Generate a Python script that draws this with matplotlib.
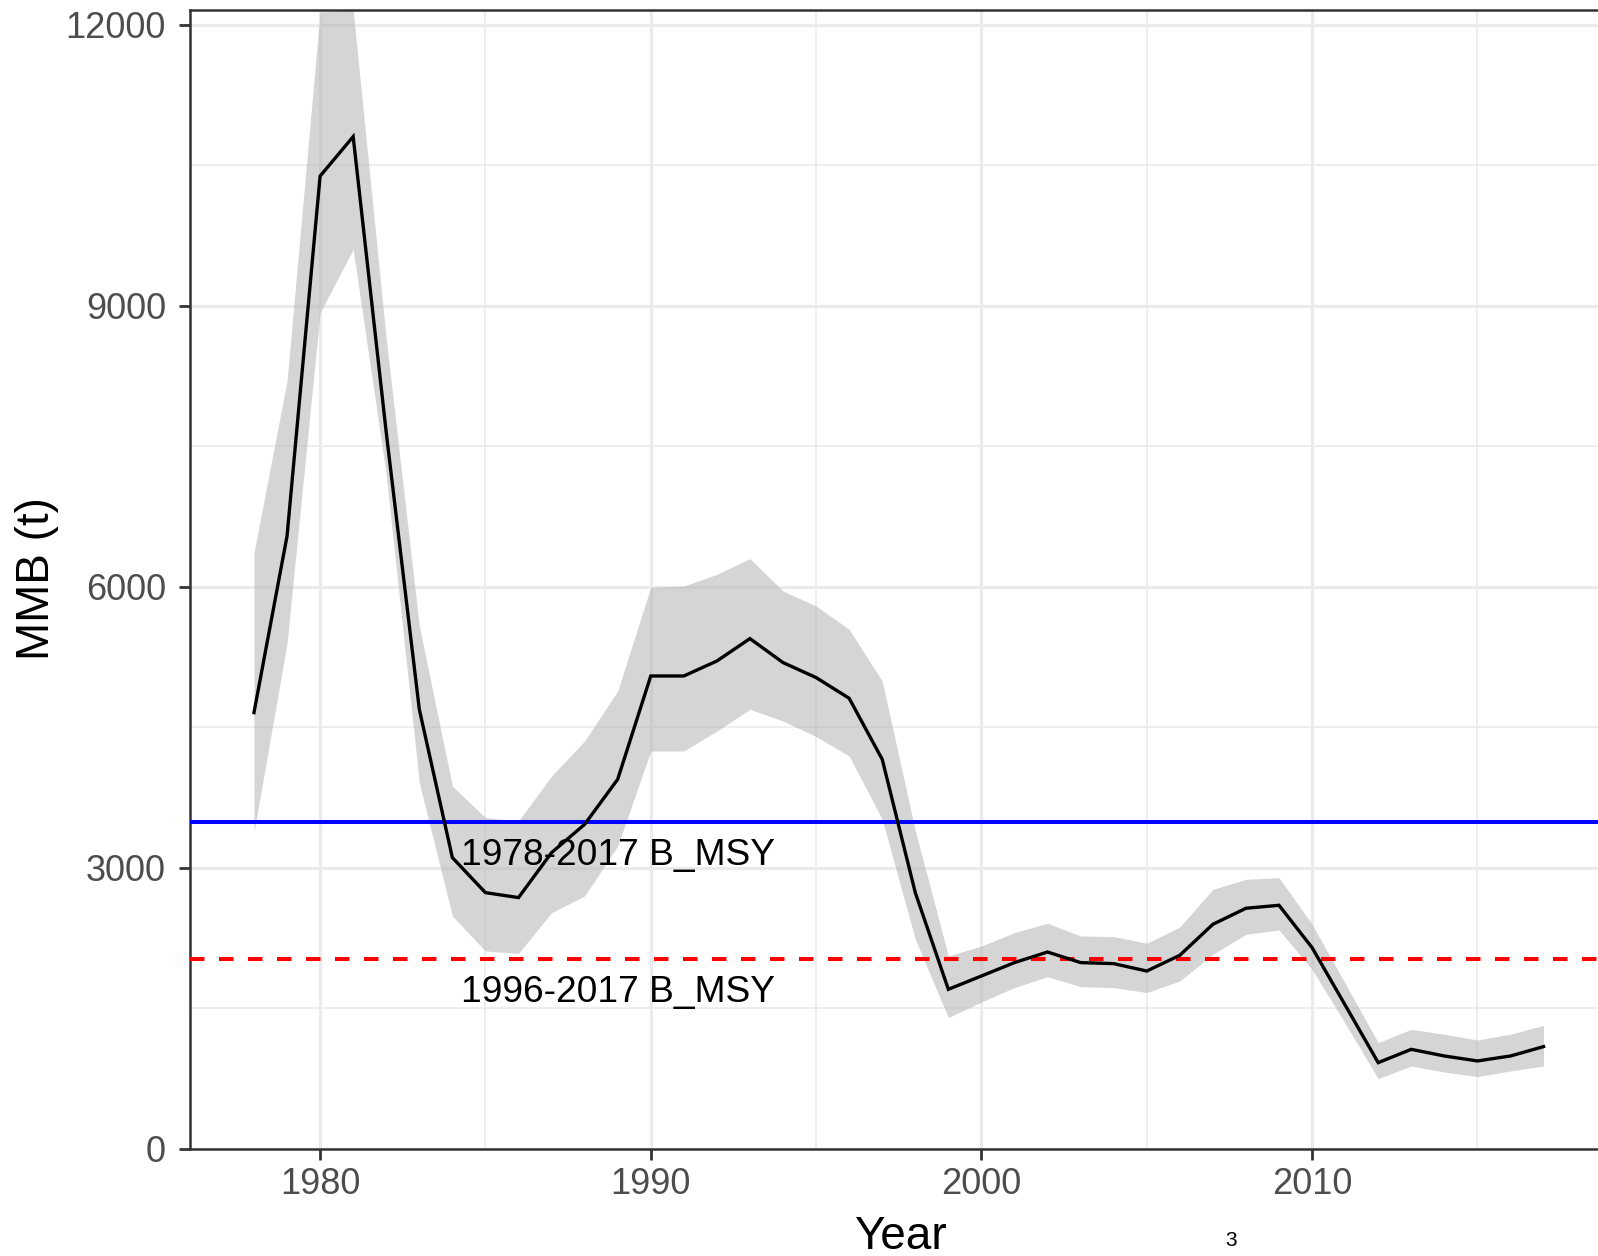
import matplotlib
matplotlib.use("Agg")
import matplotlib.pyplot as plt
import numpy as np

# Mature male biomass estimates with confidence band
years = list(range(1978, 2018))
mmb = [4659, 6544, 10387, 10808, 7650, 4694, 3111, 2737, 2684, 3164,
       3466, 3947, 5050, 5050, 5210, 5449, 5193, 5033, 4812, 4160,
       2737, 1705, 1847, 1990, 2103, 1990, 1979, 1900, 2068, 2399,
       2570, 2602, 2150, 1537, 922, 1064, 993, 940, 993, 1093]
mmb_upper = [6367, 8200, 12138, 12160, 8650, 5584, 3875, 3538, 3502, 3982,
             4356, 4890, 5998, 6010, 6135, 6303, 5957, 5797, 5548, 4996,
             3400, 2061, 2167, 2310, 2410, 2274, 2268, 2196, 2370, 2772,
             2879, 2897, 2399, 1769, 1136, 1278, 1225, 1164, 1225, 1320]
mmb_lower = [3378, 5400, 8929, 9605, 7200, 3911, 2488, 2114, 2089, 2523,
             2701, 3235, 4249, 4249, 4462, 4694, 4569, 4403, 4196, 3520,
             2239, 1403, 1570, 1723, 1840, 1734, 1723, 1670, 1794, 2079,
             2292, 2338, 1918, 1342, 751, 886, 822, 773, 833, 886]

# Reference biomass levels
bmsy_long = 3491    # 1978-2017 B_MSY
bmsy_short = 2025   # 1996-2017 B_MSY
bmsy_labels = ["1978-2017 B_MSY", "1996-2017 B_MSY"]
label_year = 1989
label_baselines = [3029, 1574]

x_ticks = [1980, 1990, 2000, 2010]
y_ticks = [0, 3000, 6000, 9000, 12000]

FONT = "Liberation Sans"
plt.rcParams["font.family"] = [FONT, "DejaVu Sans"]

W, H = 1598, 1256
fig = plt.figure(figsize=(W / 100, H / 100), dpi=100)
fig.patch.set_facecolor("white")

px_left, px_right, px_top, px_bottom = 189.5, 1608.0, 10.0, 1149.0
ax = fig.add_axes([px_left / W, (H - px_bottom) / H,
                   (px_right - px_left) / W, (px_bottom - px_top) / H])

ax.fill_between(years, mmb_lower, mmb_upper, color="#B3B3B3", alpha=0.55,
                linewidth=0, zorder=2)
ax.axhline(bmsy_long, color="#0000FF", lw=2.9, zorder=3)
ax.axhline(bmsy_short, color="#FF0000", lw=2.9, ls=(0, (3.6, 3.6)), zorder=3)
ax.plot(years, mmb, color="black", lw=2.4, zorder=4, solid_joinstyle="miter")

for lab, yb in zip(bmsy_labels, label_baselines):
    ax.text(label_year, yb, lab, ha="center", va="baseline",
            fontsize=26.7, color="black", zorder=5)

ax.set_xticks(x_ticks)
ax.set_xticks([1975, 1985, 1995, 2005, 2015], minor=True)
ax.set_yticks(y_ticks)
ax.set_yticks([1500, 4500, 7500, 10500], minor=True)

# limits after ticks so the minor ticks do not widen the view
ax.set_xlim(1976.05, 2018.95)
ax.set_ylim(0, max(mmb_upper))

ax.grid(which="major", color="#EBEBEB", lw=2.3, zorder=0)
ax.grid(which="minor", color="#EBEBEB", lw=1.2, zorder=0)
ax.set_axisbelow(True)

for sp in ax.spines.values():
    sp.set_color("#333333")
    sp.set_linewidth(1.8)

ax.tick_params(which="major", length=8, width=2.0, color="#333333",
               labelsize=26, labelcolor="#4D4D4D")
ax.tick_params(axis="x", which="major", pad=5)
ax.tick_params(axis="y", which="major", pad=9)
ax.tick_params(which="minor", length=0)

# Axis titles
fig.text(49.5 / W, 1 - 579 / H, "MMB (t)", rotation=90, rotation_mode="anchor",
         ha="center", va="baseline", fontsize=33, color="black")
fig.text(900 / W, 1 - 1249 / H, "Year", ha="center", va="baseline",
         fontsize=33, color="black")

# Page number
fig.text(1231 / W, 1 - 1241 / H, "3", ha="center", va="center",
         fontsize=15, color="black")

fig.savefig("out.png", dpi=100, facecolor="white")
